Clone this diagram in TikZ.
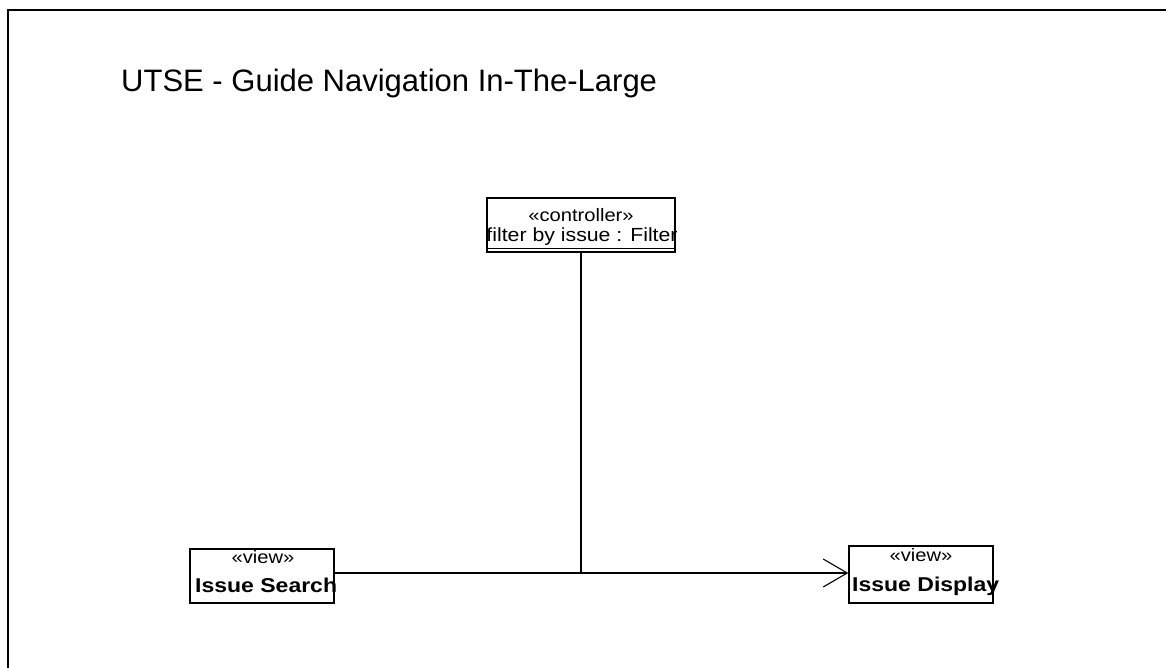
\documentclass[tikz,border=0pt]{standalone}
\usepackage{fontspec}
\setmainfont{Liberation Sans}
\newfontfamily\boxfont[FakeStretch=1.12]{Liberation Sans}
\newfontfamily\boxboldfont[FakeStretch=1.15]{Liberation Sans Bold}
\usetikzlibrary{arrows.meta}

\tikzset{
  umlbox/.style={draw=black, line width=1.4pt, rectangle, inner sep=0pt, fill=white},
  stereo/.style={font=\boxfont\fontsize{18}{20}\selectfont, inner sep=0pt, anchor=base},
  objname/.style={font=\boxfont\fontsize{19}{21}\selectfont, inner sep=0pt, anchor=base},
  viewname/.style={font=\boxboldfont\fontsize{20}{22}\selectfont, inner sep=0pt, anchor=base west},
  link/.style={draw=black, line width=1.3pt},
  navarrow/.style={link, -{Straight Barb[length=24pt, width=28pt, line width=1.1pt]}}
}

\begin{document}
\begin{tikzpicture}[x=1pt, y=-1pt]
  \useasboundingbox (0,0) rectangle (1166,668);
  \fill[white] (0,0) rectangle (1166,668);

  % diagram frame, open on the right and at the bottom
  \draw[line width=2.5pt] (8,668) -- (8,10) -- (1166,10);

  % title
  \node[anchor=base west, inner sep=0pt, font=\fontsize{31}{36}\selectfont] (title) at (121,92)
    {UTSE - Guide Navigation In-The-Large};

  % controller object
  \node[umlbox, minimum width=188pt, minimum height=54pt] (ctrl) at (581,225) {};
  \draw[line width=1.4pt] ([yshift=4pt]ctrl.south west) -- ([yshift=4pt]ctrl.south east);
  \node[stereo] (ctrlst) at (581,222) {«controller»};
  \begin{scope}
    \clip (485,198) rectangle (679,252);
    \node[objname] (ctrlname) at (582,242) {filter by issue : Filter};
  \end{scope}

  % view objects
  \node[umlbox, minimum width=144pt, minimum height=54pt] (search) at (262,576) {};
  \node[stereo] (searchst) at (263,563) {«view»};
  \node[viewname] (searchname) at (195,592) {Issue Search};

  \node[umlbox, minimum width=144pt, minimum height=57pt] (display) at (921,574.5) {};
  \node[stereo] (displayst) at (921,561) {«view»};
  \node[viewname] (displayname) at (852,591) {Issue Display};

  % navigation links
  \coordinate (junction) at (581,573);
  \draw[link] (ctrl.south) -- (junction);
  \draw[link] (search.east |- junction) -- (junction);
  \draw[navarrow] (junction) -- (display.west |- junction);
\end{tikzpicture}
\end{document}
